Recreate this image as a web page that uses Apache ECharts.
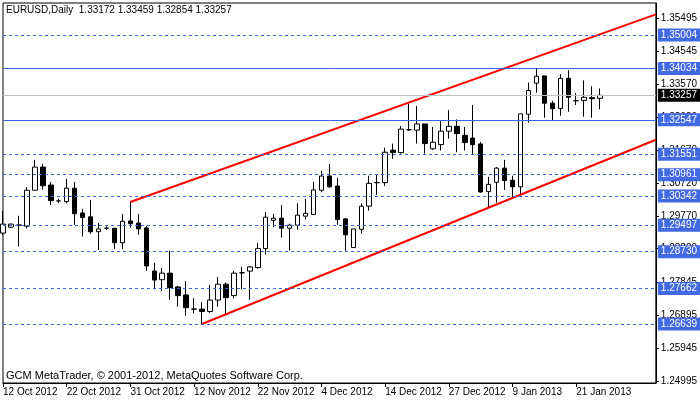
<!DOCTYPE html>
<html>
<head>
<meta charset="utf-8">
<script src="https://cdn.jsdelivr.net/npm/echarts@6/dist/echarts.min.js"></script>
<style>
html,body{margin:0;padding:0;background:#fff}
#chart{width:700px;height:402px}
</style>
</head>
<body>
<div id="chart"></div>
<script>
// daily bars, index 0 = first bar on the left
var opens  = [1.2927,1.2944,1.2950,1.2947,1.3051,1.3118,1.3066,1.3020,1.3018,1.3057,
              1.2985,1.2974,1.2931,1.2941,1.2941,1.2899,1.2962,1.2956,1.2942,1.2817,
              1.2792,1.2811,1.2771,1.2748,1.2707,1.2707,1.2700,1.2733,1.2779,1.2746,
              1.2812,1.2817,1.2827,1.2882,1.2964,1.2970,1.2941,1.2950,1.2976,1.2981,
              1.3051,1.3092,1.3063,1.2968,1.2885,1.2938,1.3005,1.3073,1.3073,1.3167,
              1.3160,1.3226,1.3225,1.3243,1.3171,1.3183,1.3222,1.3236,1.3210,1.3202,
              1.3185,1.3047,1.3074,1.3115,1.3080,1.3061,1.3271,1.3361,1.3382,1.3303,
              1.3288,1.3375,1.3310,1.3311,1.3319,1.33172]
var closes = [1.2953,1.2953,1.2950,1.3051,1.3118,1.3064,1.3021,1.3020,1.3057,1.2983,
              1.2972,1.2931,1.2939,1.2941,1.2899,1.2961,1.2954,1.2939,1.2832,1.2791,
              1.2811,1.2769,1.2746,1.2711,1.2707,1.2700,1.2733,1.2779,1.2740,1.2811,
              1.2812,1.2829,1.2882,1.2973,1.2970,1.2941,1.2950,1.2979,1.2984,1.3052,
              1.3092,1.3061,1.2966,1.2922,1.2939,1.3005,1.3071,1.3073,1.3161,1.3160,
              1.3228,1.3226,1.3243,1.3186,1.3190,1.3222,1.3236,1.3215,1.3189,1.3183,
              1.3046,1.3068,1.3115,1.3079,1.3061,1.3272,1.3340,1.3381,1.3303,1.3287,
              1.3375,1.3320,1.3310,1.3320,1.3316,1.33257]
var lows   = [1.2922,1.2942,1.2888,1.2940,1.3051,1.3053,1.3008,1.3014,1.3013,1.2951,
              1.2917,1.2925,1.2878,1.2936,1.2881,1.2881,1.2943,1.2922,1.2818,1.2764,
              1.2760,1.2734,1.2714,1.2688,1.2694,1.2661,1.2696,1.2714,1.2691,1.2738,
              1.2764,1.2734,1.2824,1.2865,1.2944,1.2914,1.2876,1.2937,1.2966,1.2979,
              1.3045,1.3058,1.2951,1.2872,1.2885,1.2925,1.2992,1.3037,1.3063,1.3142,
              1.3157,1.3223,1.3186,1.3157,1.3168,1.3166,1.3200,1.3161,1.3166,1.3155,
              1.3044,1.3001,1.3015,1.3052,1.3032,1.3035,1.3247,1.3333,1.3261,1.3254,
              1.3267,1.3278,1.3298,1.3264,1.3261,1.32854]
var highs  = [1.2991,1.2954,1.2977,1.3060,1.3139,1.3127,1.3075,1.3026,1.3084,1.3075,
              1.2997,1.3023,1.2956,1.2946,1.2941,1.2982,1.3018,1.2982,1.2948,1.2841,
              1.2826,1.2876,1.2774,1.2788,1.2739,1.2727,1.2777,1.2800,1.2784,1.2817,
              1.2829,1.2832,1.2898,1.2988,1.2982,1.3008,1.2954,1.3013,1.3026,1.3075,
              1.3107,1.3127,1.3087,1.2971,1.2939,1.3013,1.3093,1.3098,1.3174,1.3186,
              1.3237,1.3301,1.3295,1.3243,1.3234,1.3251,1.3283,1.3256,1.3234,1.3298,
              1.3191,1.3090,1.3118,1.3139,1.3093,1.3272,1.3363,1.3402,1.3382,1.3310,
              1.3387,1.3399,1.3332,1.3369,1.3352,1.33459]

var dateLabels = ['12 Oct 2012','22 Oct 2012','31 Oct 2012','12 Nov 2012','22 Nov 2012',
                  '4 Dec 2012','14 Dec 2012','27 Dec 2012','9 Jan 2013','21 Jan 2013']
var priceTicks = [1.35495,1.34545,1.33570,1.32620,1.31670,1.30720,1.29770,1.28820,
                  1.27845,1.26895,1.25945,1.24995]
var dashedLevels = [1.35004,1.31551,1.30961,1.30342,1.29497,1.28730,1.27662,1.26639]
var solidLevels = [1.34034,1.32547]
var lastPrice = 1.33257
// channel lines [bar index, price]
var upperChannel = [[16,1.30171],[82,1.3560]]
var lowerChannel = [[25,1.26639],[82,1.3197]]

var nSlots = 83
var cats = []
for (var i = 0; i < nSlots; i++) cats.push(String(i))

var candles = []
for (var i = 0; i < opens.length; i++) candles.push([opens[i], closes[i], lows[i], highs[i]])

var font = 'Liberation Sans'
function lvl(v, dashed) {
  return {
    yAxis: v,
    lineStyle: {color: '#3a63dc', width: 1, type: dashed ? [3, 3] : 'solid'},
    label: {backgroundColor: '#4169e1', color: '#fff'}
  }
}
var marks = []
dashedLevels.forEach(function(v){ marks.push(lvl(v, true)) })
solidLevels.forEach(function(v){ marks.push(lvl(v, false)) })
marks.push({yAxis: lastPrice, lineStyle: {color: '#c0c0c0', width: 1, type: 'solid'},
  label: {backgroundColor: '#000', color: '#fff'}})

var option = {
  animation: false,
  backgroundColor: '#fff',
  textStyle: {fontFamily: font},
  graphic: [
    {type: 'text', left: 6, top: 5, style: {text: 'EURUSD,Daily  1.33172 1.33459 1.32854 1.33257', font: '10px ' + font, fill: '#000'}},
    {type: 'text', left: 6, top: 370, style: {text: 'GCM MetaTrader, © 2001-2012, MetaQuotes Software Corp.', font: '11px ' + font, fill: '#000'}}
  ],
  grid: {left: 3, right: 43, top: 3, bottom: 19, show: true, borderColor: '#000', borderWidth: 1},
  xAxis: {
    type: 'category', data: cats, boundaryGap: false,
    axisLine: {lineStyle: {color: '#000'}},
    axisTick: {show: true, length: 4, lineStyle: {color: '#000'}, interval: function(i){ return i % 8 === 0 && i / 8 < dateLabels.length }},
    axisLabel: {
      interval: function(i){ return i % 8 === 0 && i / 8 < dateLabels.length },
      formatter: function(v, i){ return dateLabels[i / 8] || '' },
      align: 'left', margin: 4, color: '#000', fontSize: 10, fontFamily: font
    },
    splitLine: {show: false}
  },
  yAxis: {
    type: 'value', position: 'right', min: 1.2493, max: 1.3593, scale: true,
    axisLine: {show: true, lineStyle: {color: '#000'}},
    axisTick: {show: true, length: 3, customValues: priceTicks, lineStyle: {color: '#000'}},
    axisLabel: {customValues: priceTicks, formatter: function(v){ return v.toFixed(5) }, color: '#000', fontSize: 10, fontFamily: font, margin: 5},
    splitLine: {show: false}
  },
  series: [
    {
      type: 'candlestick', data: candles, barWidth: 5,
      itemStyle: {color: '#fff', color0: '#000', borderColor: '#000', borderColor0: '#000', borderWidth: 1},
      markLine: {
        symbol: 'none', silent: true, animation: false, precision: 5,
        label: {position: 'end', distance: 2, formatter: function(p){ return Number(p.value).toFixed(5) }, fontSize: 10, fontFamily: font, padding: [2, 3, 1, 3]},
        data: marks
      }
    },
    {type: 'line', data: upperChannel, symbol: 'none', clip: true, lineStyle: {color: '#ff0000', width: 2}},
    {type: 'line', data: lowerChannel, symbol: 'none', clip: true, lineStyle: {color: '#ff0000', width: 2}}
  ]
}
echarts.init(document.getElementById('chart')).setOption(option)
</script>
</body>
</html>
